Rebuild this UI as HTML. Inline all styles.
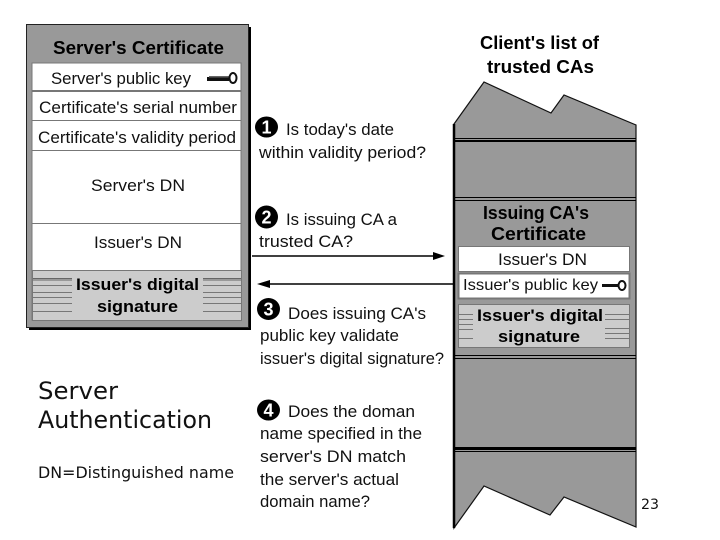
<!DOCTYPE html>
<html><head><meta charset="utf-8"><style>
html,body{margin:0;padding:0;background:#fff}
svg{display:block}
text{font-family:"Liberation Sans",sans-serif;fill:#111}
.d{font-family:"DejaVu Sans",sans-serif}
.b{font-weight:bold;fill:#000}
</style></head><body>
<svg width="720" height="540" viewBox="0 0 720 540" xmlns="http://www.w3.org/2000/svg">
<rect width="720" height="540" fill="#fff"/>
<!-- left card -->
<rect x="29" y="27" width="222" height="303" fill="#000"/>
<rect x="26.5" y="24.5" width="222" height="303" fill="#999" stroke="#222"/>
<rect x="32" y="63" width="209" height="257" fill="#fff" stroke="#777"/>
<rect x="32" y="90" width="209" height="2" fill="#777"/>
<rect x="32" y="120" width="209" height="1" fill="#777"/>
<rect x="32" y="150" width="209" height="1" fill="#777"/>
<rect x="32" y="223" width="209" height="1" fill="#777"/>
<rect x="32.5" y="270.5" width="209" height="50" fill="#ccc" stroke="#777"/>
<g stroke="#777">
<path d="M33 278.5H72M33 280H72" stroke="#666"/>
<path d="M33 285.5H72M33 292.5H72M33 297.5H72M33 303.5H72M33 311.5H72"/>
<path d="M203 278.5H241M203 280H241" stroke="#666"/>
<path d="M203 285.5H241M203 292.5H241M203 297.5H241M203 303.5H241M203 311.5H241"/>
</g>
<text class="b" x="53" y="54" font-size="18" textLength="171" lengthAdjust="spacingAndGlyphs">Server's Certificate</text>
<text x="51" y="84" font-size="17" textLength="140" lengthAdjust="spacingAndGlyphs">Server's public key</text>
<rect x="207" y="77" width="22" height="4" fill="#111"/>
<rect x="209" y="76" width="20" height="1.5" fill="#666"/>
<ellipse cx="233" cy="78" rx="3.5" ry="5" fill="#fff" stroke="#111" stroke-width="2"/>
<text x="39" y="113" font-size="17" textLength="198" lengthAdjust="spacingAndGlyphs">Certificate's serial number</text>
<text x="38" y="143" font-size="17" textLength="198" lengthAdjust="spacingAndGlyphs">Certificate's validity period</text>
<text x="91" y="191" font-size="17" textLength="94" lengthAdjust="spacingAndGlyphs">Server's DN</text>
<text x="94" y="248" font-size="17" textLength="88" lengthAdjust="spacingAndGlyphs">Issuer's DN</text>
<text class="b" x="76" y="290" font-size="17" textLength="123" lengthAdjust="spacingAndGlyphs">Issuer's digital</text>
<text class="b" x="97" y="312" font-size="17" textLength="81" lengthAdjust="spacingAndGlyphs">signature</text>
<!-- right strip -->
<polygon points="454,124 484,82 551,113 564,95 636,125 636,527 564,497 550,515 484,486 454,528" fill="#999" stroke="#111" stroke-width="1.2"/>
<path d="M454 124V528" stroke="#000" stroke-width="2.5" fill="none"/>
<g fill="#000">
<rect x="454" y="138" width="182" height="1"/><rect x="454" y="140" width="182" height="2"/>
<rect x="454" y="197" width="182" height="1"/><rect x="454" y="200" width="182" height="1"/>
<rect x="454" y="355" width="182" height="1"/><rect x="454" y="358" width="182" height="1"/>
<rect x="454" y="447" width="182" height="3"/><rect x="454" y="451" width="182" height="1"/>
</g>
<text class="b" x="480" y="49" font-size="18" textLength="119" lengthAdjust="spacingAndGlyphs">Client's list of</text>
<text class="b" x="487" y="73" font-size="18" textLength="107" lengthAdjust="spacingAndGlyphs">trusted CAs</text>
<text class="b" x="483" y="219" font-size="18" textLength="106" lengthAdjust="spacingAndGlyphs">Issuing CA's</text>
<text class="b" x="491" y="240" font-size="18" textLength="95" lengthAdjust="spacingAndGlyphs">Certificate</text>
<rect x="458.5" y="246.5" width="171" height="25" fill="#fff" stroke="#777"/>
<rect x="458.5" y="273.5" width="171" height="25" fill="#fff" stroke="#777" stroke-width="2"/>
<text x="498" y="265" font-size="17" textLength="89" lengthAdjust="spacingAndGlyphs">Issuer's DN</text>
<text x="463" y="290" font-size="16" textLength="135" lengthAdjust="spacingAndGlyphs">Issuer's public key</text>
<rect x="602" y="284" width="18" height="3" fill="#111"/>
<ellipse cx="622" cy="285.5" rx="3.5" ry="4.5" fill="#fff" stroke="#111" stroke-width="2"/>
<rect x="458.5" y="304.5" width="171" height="43" fill="#ccc" stroke="#777"/>
<g stroke="#777">
<path d="M459 314.5H473M459 319.5H473M459 324.5H473M459 329.5H473M459 338.5H473"/>
<path d="M605 314.5H629M605 319.5H629M605 328.5H629M605 333.5H629M605 338.5H629"/>
</g>
<text class="b" x="477" y="321" font-size="17" textLength="126" lengthAdjust="spacingAndGlyphs">Issuer's digital</text>
<text class="b" x="498" y="342" font-size="17" textLength="82" lengthAdjust="spacingAndGlyphs">signature</text>
<!-- connectors -->
<path d="M252 256H436" stroke="#000" stroke-width="1.5"/>
<polygon points="433,252 445,256 433,260" fill="#000"/>
<path d="M268 284H454" stroke="#000" stroke-width="1.5"/>
<polygon points="257,284 270,280 270,288" fill="#000"/>
<!-- steps -->
<ellipse cx="266.5" cy="127" rx="11.5" ry="10.5" fill="#000"/>
<text x="266.5" y="133.500" font-size="18" text-anchor="middle" font-weight="bold" style="fill:#fff">1</text>
<text x="286" y="135" font-size="17" textLength="108" lengthAdjust="spacingAndGlyphs">Is today's date</text>
<text x="259" y="158" font-size="17" textLength="167" lengthAdjust="spacingAndGlyphs">within validity period?</text>
<ellipse cx="266.5" cy="217" rx="11.5" ry="11.5" fill="#000"/>
<text x="266.5" y="223.500" font-size="18" text-anchor="middle" font-weight="bold" style="fill:#fff">2</text>
<text x="286" y="225" font-size="17" textLength="111" lengthAdjust="spacingAndGlyphs">Is issuing CA a</text>
<text x="259" y="247" font-size="17" textLength="94" lengthAdjust="spacingAndGlyphs">trusted CA?</text>
<ellipse cx="268.5" cy="309" rx="11.5" ry="11" fill="#000"/>
<text x="268.5" y="315.500" font-size="18" text-anchor="middle" font-weight="bold" style="fill:#fff">3</text>
<text x="288" y="319" font-size="17" textLength="138" lengthAdjust="spacingAndGlyphs">Does issuing CA's</text>
<text x="260" y="341" font-size="17" textLength="139" lengthAdjust="spacingAndGlyphs">public key validate</text>
<text x="260" y="364" font-size="17" textLength="184" lengthAdjust="spacingAndGlyphs">issuer's digital signature?</text>
<ellipse cx="268.5" cy="410" rx="11.5" ry="10.5" fill="#000"/>
<text x="268.5" y="416.500" font-size="18" text-anchor="middle" font-weight="bold" style="fill:#fff">4</text>
<text x="288" y="417" font-size="17" textLength="127" lengthAdjust="spacingAndGlyphs">Does the doman</text>
<text x="260" y="439" font-size="17" textLength="162" lengthAdjust="spacingAndGlyphs">name specified in the</text>
<text x="260" y="462" font-size="17" textLength="146" lengthAdjust="spacingAndGlyphs">server's DN match</text>
<text x="260" y="485" font-size="17" textLength="139" lengthAdjust="spacingAndGlyphs">the server's actual</text>
<text x="260" y="507" font-size="17" textLength="110" lengthAdjust="spacingAndGlyphs">domain name?</text>
<!-- slide text -->
<text class="d" x="38" y="399" font-size="24" textLength="80" lengthAdjust="spacingAndGlyphs">Server</text>
<text class="d" x="38" y="428" font-size="24" textLength="174" lengthAdjust="spacingAndGlyphs">Authentication</text>
<text class="d" x="38" y="478" font-size="16" textLength="196" lengthAdjust="spacingAndGlyphs">DN=Distinguished name</text>
<text class="d" x="641" y="509" font-size="14" textLength="18" lengthAdjust="spacingAndGlyphs">23</text>
</svg>
</body></html>
